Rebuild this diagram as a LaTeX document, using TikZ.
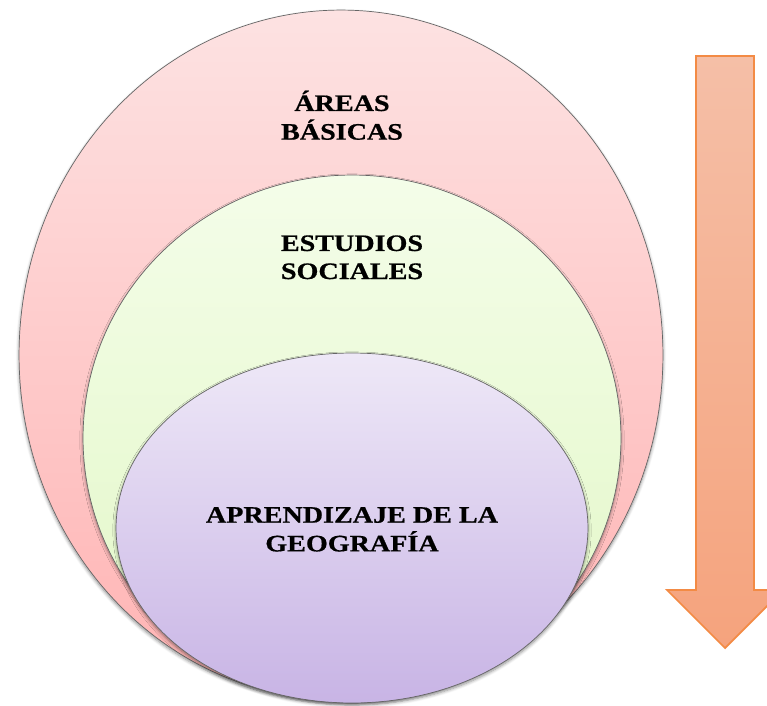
\documentclass[tikz,border=0pt]{standalone}
\usepackage{fontspec}
\usepackage{graphicx}
\setmainfont[BoldFeatures={FakeBold=0.6}]{Liberation Serif}
\usetikzlibrary{shapes.geometric,shadows.blur}

\definecolor{pinktop}{HTML}{FDE2E2}
\definecolor{pinkbot}{HTML}{FFB3B3}
\definecolor{greentop}{HTML}{F4FDE9}
\definecolor{greenbot}{HTML}{E2F7C6}
\definecolor{lilatop}{HTML}{EEE8F7}
\definecolor{lilabot}{HTML}{C8B4E5}
\definecolor{arrowtop}{HTML}{F5BFA7}
\definecolor{arrowbot}{HTML}{F5A37D}
\definecolor{arrowline}{HTML}{F38B45}

\newcommand{\squash}[1]{\scalebox{1}[0.84]{\begin{tabular}{@{}c@{}}#1\end{tabular}}}

\tikzset{
  area/.style={ellipse, inner sep=0pt, draw=black!60, line width=0.4pt,
    blur shadow={shadow xshift=0pt, shadow yshift=-1.2pt, shadow blur steps=6, shadow opacity=45}},
  label/.style={font=\bfseries\fontsize{16pt}{19pt}\selectfont, inner sep=0pt, text=black}
}

\begin{document}
\begin{tikzpicture}[x=0.02cm,y=-0.02cm]

            \useasboundingbox (0,0) rectangle (767,706);

            \node[area, top color=pinktop, bottom color=pinkbot,
                  minimum width=12.88cm, minimum height=13.8cm] (basicas) at (341,355) {};
            \node[area, top color=greentop, bottom color=greenbot,
                  minimum width=10.76cm, minimum height=10.52cm] (sociales) at (352,438) {};
            \node[area, top color=lilatop, bottom color=lilabot,
                  minimum width=9.44cm, minimum height=7cm] (geografia) at (352,528) {};

            \node[label] (tbasicas) at (342,119.4) {\squash{ÁREAS\\BÁSICAS}};
            \node[label] (tsociales) at (352,259.4) {\squash{ESTUDIOS\\SOCIALES}};
            \node[label] (tgeografia) at (352,531.4) {\squash{APRENDIZAJE DE LA\\GEOGRAFÍA}};

            % flecha hacia abajo
            \draw[arrowline, line width=1pt, top color=arrowtop, bottom color=arrowbot]
                (696,56) -- (754,56) -- (754,590) -- (783,590) -- (725,648)
                -- (667,590) -- (696,590) -- cycle;

        \end{tikzpicture}
\end{document}
